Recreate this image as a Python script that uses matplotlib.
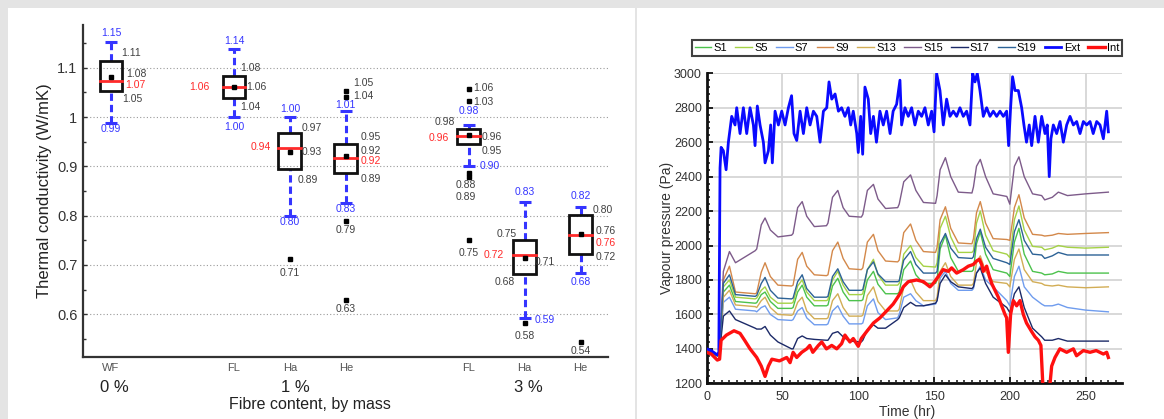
import matplotlib
matplotlib.use('Agg')
import matplotlib.pyplot as plt
from matplotlib.patches import Rectangle
from matplotlib.ticker import MultipleLocator, FixedLocator, FuncFormatter

plt.rcParams['font.family'] = ['Liberation Sans', 'DejaVu Sans']

# ---------------- Left chart data: thermal conductivity ----------------
categories = ['WF', 'FL', 'Ha', 'He', 'FL', 'Ha', 'He']
groups = ['0 %', '1 %', '3 %']
whisker_hi = [1.152, 1.138, 1.000, 1.012, 0.984, 0.827, 0.818]
q3 = [1.114, 1.083, 0.967, 0.946, 0.976, 0.751, 0.802]
median = [1.074, 1.061, 0.937, 0.918, 0.962, 0.721, 0.761]
mean = [1.082, 1.061, 0.929, 0.921, 0.964, 0.713, 0.763]
q1 = [1.053, 1.038, 0.894, 0.886, 0.946, 0.681, 0.722]
whisker_lo = [0.989, 1.000, 0.800, 0.826, 0.900, 0.592, 0.683]
outliers = [[], [], [0.712], [1.053, 1.040, 0.790, 0.628],
            [1.057, 1.032, 0.878, 0.886, 0.750], [0.583], [0.543]]

# ---------------- Right chart data: vapour pressure ----------------
t_s = [0, 7, 8.5, 11, 15, 19, 32,
       33, 36, 38.5, 42, 47, 56,
       57, 60, 63, 66, 71, 79,
       80, 83, 86.5, 90, 94, 102,
       103, 106, 110, 113, 118, 126,
       127, 130, 134.5, 138, 143, 151,
       152, 154, 157.5, 161, 166, 175,
       176, 178, 180.5, 184, 189, 198,
       200, 203, 206, 209.5, 215,
       221, 223, 228, 232, 238, 250, 265]
s1 = [1400, 1360, 1380, 1730, 1770, 1675, 1665,
      1668, 1715, 1730, 1675, 1635, 1635,
      1640, 1730, 1770, 1700, 1650, 1650,
      1655, 1765, 1810, 1730, 1680, 1680,
      1685, 1800, 1850, 1775, 1720, 1720,
      1730, 1860, 1910, 1830, 1780, 1780,
      1800, 1980, 2060, 1930, 1850, 1850,
      1860, 2010, 2080, 1950, 1860, 1840,
      1820, 2020, 2100, 1950, 1850,
      1840, 1830, 1835, 1850, 1840, 1840, 1840]
s5 = [1400, 1360, 1380, 1760, 1800, 1700, 1690,
      1695, 1740, 1760, 1700, 1665, 1665,
      1670, 1765, 1800, 1730, 1680, 1680,
      1685, 1800, 1850, 1770, 1715, 1715,
      1720, 1860, 1920, 1830, 1770, 1770,
      1780, 1950, 2000, 1930, 1880, 1875,
      1900, 2100, 2170, 2050, 1960, 1960,
      1970, 2130, 2200, 2060, 1970, 1950,
      1930, 2150, 2230, 2090, 1995,
      1990, 1975, 1985, 2000, 1990, 1985, 1990]
s7 = [1400, 1360, 1380, 1670, 1700, 1630, 1620,
      1615, 1640, 1650, 1600, 1570, 1565,
      1570, 1620, 1640, 1580, 1540, 1540,
      1545, 1620, 1650, 1590, 1545, 1545,
      1550, 1650, 1690, 1610, 1570, 1580,
      1600, 1700, 1720, 1680, 1650, 1660,
      1680, 1810, 1850, 1780, 1740, 1740,
      1750, 1840, 1880, 1800, 1760, 1680,
      1650, 1820, 1880, 1760, 1700,
      1660, 1650, 1650, 1660, 1640, 1625, 1615]
s9 = [1400, 1360, 1385, 1800, 1880, 1730, 1720,
      1725, 1845, 1900, 1820, 1770, 1765,
      1770, 1920, 1960, 1880, 1830, 1825,
      1830, 1970, 2020, 1925, 1865, 1860,
      1870, 2020, 2065, 1970, 1910, 1905,
      1915, 2075, 2125, 2030, 1965, 1960,
      1990, 2150, 2225, 2100, 2015, 2010,
      2040, 2190, 2255, 2130, 2040, 2035,
      2030, 2220, 2295, 2160, 2065,
      2060, 2055, 2060, 2070, 2065, 2070, 2075]
s13 = [1400, 1360, 1380, 1700, 1740, 1655, 1645,
       1640, 1680, 1700, 1640, 1600, 1595,
       1600, 1670, 1700, 1620, 1575, 1575,
       1580, 1680, 1720, 1640, 1590, 1590,
       1595, 1710, 1760, 1675, 1620, 1620,
       1630, 1760, 1800, 1730, 1680, 1680,
       1700, 1850, 1900, 1820, 1770, 1770,
       1780, 1900, 1940, 1850, 1790, 1780,
       1760, 1920, 1980, 1860, 1790,
       1780, 1770, 1765, 1770, 1760, 1755, 1760]
s15 = [1400, 1360, 1400, 1850, 1965, 1900, 1970,
       1980, 2120, 2160, 2090, 2050, 2060,
       2070, 2220, 2255, 2170, 2110, 2115,
       2130, 2280, 2320, 2220, 2170, 2165,
       2180, 2320, 2355, 2270, 2215, 2220,
       2240, 2370, 2410, 2320, 2250, 2245,
       2290, 2440, 2510, 2400, 2310, 2305,
       2340, 2460, 2500, 2400, 2300, 2285,
       2240, 2460, 2515, 2400, 2300,
       2290, 2265, 2280, 2310, 2290, 2300, 2310]
s17 = [1400, 1360, 1380, 1590, 1620, 1570, 1520,
       1515, 1515, 1530, 1480, 1440, 1400,
       1400, 1460, 1475, 1460, 1455, 1450,
       1450, 1490, 1500, 1470, 1445, 1440,
       1450, 1510, 1540, 1520, 1520, 1570,
       1580, 1640, 1670, 1650, 1650, 1665,
       1680, 1780, 1830, 1790, 1760, 1750,
       1760, 1840, 1870, 1780, 1700, 1640,
       1610, 1720, 1760, 1640, 1520,
       1470, 1450, 1450, 1460, 1445, 1445, 1445]
s19 = [1400, 1360, 1380, 1780, 1830, 1715, 1705,
       1710, 1780, 1815, 1740, 1695, 1690,
       1695, 1790, 1830, 1750, 1700, 1700,
       1705, 1820, 1865, 1790, 1740, 1740,
       1745, 1860, 1905, 1835, 1790, 1790,
       1795, 1915, 1965, 1890, 1840, 1840,
       1850, 2010, 2070, 1985, 1930, 1925,
       1935, 2040, 2095, 1990, 1925, 1900,
       1890, 2080, 2150, 2030, 1950,
       1945, 1925, 1940, 1960, 1945, 1945, 1945]

ext_t = [0, 3, 7, 8, 8.8, 9.5, 11, 12.8, 14.3, 16.5,
         18.7, 19.8, 22, 24.2, 26.4, 28.6, 30.8, 31.9, 33.4, 35.2,
         37.4, 38.5, 40.7, 42.2, 43.3, 45.1, 47.3, 49.5, 51.7, 53.9,
         56, 57.6, 59.4, 61.6, 63.8, 66, 68.2, 70.4, 72.6, 74.8,
         77, 79.2, 80.7, 82.5, 84.7, 86.9, 89, 91.2, 93.4, 95,
         96.7, 99, 100, 101.6, 102.9, 104.4, 106.6, 108.2, 110, 112,
         114.3, 116.5, 118.7, 121, 123, 125.3, 127.5, 128.6, 130.8, 133,
         135.2, 137.4, 139.6, 141.8, 144, 146.2, 148.4, 150, 151.7, 153.9,
         156.1, 158.3, 160.5, 162.7, 164.9, 167.1, 169.3, 171.5, 173.7, 175.5,
         177, 178.5, 180.3, 182.5, 184.7, 186.9, 189.1, 191.3, 193.5, 195.7,
         197.9, 199.2, 200.5, 201.8, 203.4, 205.6, 207.8, 209.3, 211, 212.8,
         214.4, 216.6, 218.8, 221, 223.2, 224.7, 226, 227.1, 228.7, 230.9,
         233.1, 235.3, 237.5, 239.7, 241.9, 244.1, 246.3, 248.5, 250.7, 252.9,
         255, 257.3, 259.5, 261.7, 263.9, 265]
ext_v = [1400, 1390, 1365, 1380, 2450, 2570, 2550, 2440, 2600, 2750,
         2700, 2800, 2650, 2800, 2650, 2800, 2700, 2580, 2810, 2700,
         2600, 2480, 2550, 2700, 2480, 2780, 2700, 2780, 2700, 2800,
         2870, 2650, 2610, 2780, 2650, 2800, 2700, 2780, 2750, 2600,
         2780, 2800, 2950, 2850, 2880, 2780, 2800, 2750, 2800, 2700,
         2780, 2650, 2540, 2750, 2530, 2920, 2850, 2650, 2750, 2600,
         2780, 2700, 2780, 2650, 2780, 2820, 2960, 2700, 2800, 2750,
         2800, 2700, 2780, 2750, 2800, 2700, 2780, 2660, 3000, 2900,
         2700, 2850, 2750, 2780, 2750, 2800, 2750, 2780, 2700, 3000,
         2950, 3000, 2900, 2750, 2800, 2750, 2780, 2750, 2780, 2750,
         2780, 2580, 2800, 2980, 2900, 2900, 2800, 2700, 2600, 2700,
         2580, 2750, 2600, 2750, 2650, 2700, 2400, 2620, 2700, 2650,
         2720, 2600, 2700, 2750, 2700, 2720, 2650, 2720, 2700, 2720,
         2650, 2720, 2700, 2620, 2780, 2660]

int_t = [0, 3, 7, 8.5, 9.5, 13, 18, 22, 25, 28.6,
         33, 36, 38.5, 40.7, 43, 48, 52.8, 55, 57, 59.4,
         62.7, 66, 68, 70, 73.7, 75.9, 79, 82.5, 85.8, 89,
         91.2, 94.5, 96.7, 100, 102, 105.5, 110, 114.3, 118.7, 123,
         125.3, 127.5, 129.7, 133, 138.5, 143, 147.3, 149.5, 152.8, 156,
         159.4, 161.6, 164.9, 169.3, 172.6, 175.9, 178, 179.9, 181.4, 182.5,
         184.7, 186.5, 188, 190.2, 192.4, 194.6, 196.8, 197.9, 199, 200.5,
         202.3, 204.5, 206.7, 208.9, 211, 214.4, 216.6, 218.8, 220.5, 222,
         226, 227.6, 229.8, 233, 237.5, 241.9, 244, 248.5, 252.9, 257,
         261.7, 263.9, 265]
int_v = [1380, 1370, 1335, 1340, 1450, 1480, 1505, 1490, 1450, 1400,
         1350, 1300, 1240, 1300, 1340, 1330, 1350, 1320, 1380, 1350,
         1380, 1400, 1420, 1380, 1420, 1440, 1400, 1420, 1400, 1430,
         1480, 1440, 1460, 1415, 1460, 1500, 1550, 1580, 1620, 1660,
         1690, 1720, 1760, 1790, 1800, 1790, 1760, 1780, 1820, 1860,
         1850, 1870, 1840, 1860, 1880, 1890, 1910, 1920, 1890, 1850,
         1880, 1820, 1780, 1740, 1700, 1650, 1600, 1580, 1380, 1600,
         1680, 1650, 1680, 1600, 1550, 1500, 1470, 1450, 1420, 1150,
         1150, 1300, 1350, 1400, 1380, 1400, 1360, 1390, 1380, 1390,
         1370, 1380, 1350]

series_names = ['S1', 'S5', 'S7', 'S9', 'S13', 'S15', 'S17', 'S19']
series_vals = [s1, s5, s7, s9, s13, s15, s17, s19]
series_colors = ['#4cc24c', '#a5d246', '#6f9cee', '#d3884a', '#d2ad55',
                 '#7d5b8a', '#1c2a68', '#2c6296']

# ---------------- Figure & panels ----------------
W, H = 1164, 419
fig = plt.figure(figsize=(W / 100, H / 100), dpi=100, facecolor='#e4e4e4')
fig.patches.append(Rectangle((8 / W, 0), (635 - 8) / W, 411 / H, transform=fig.transFigure,
                             facecolor='white', edgecolor='none', zorder=-10))
fig.patches.append(Rectangle((637 / W, 0), (W - 637) / W, 411 / H, transform=fig.transFigure,
                             facecolor='white', edgecolor='none', zorder=-10))

BLUE = '#3535ff'
RED = '#ff2a2a'
GRAY = '#404040'

# ---------------- Left axes ----------------
axL = fig.add_axes([83 / W, 1 - 357 / H, (608 - 83) / W, (357 - 25) / H])
axL.set_facecolor('none')
pos = [0, 2.2, 3.2, 4.2, 6.4, 7.4, 8.4]
axL.set_xlim(-0.501, 8.891)
axL.set_ylim(0.513, 1.187)
for s in ['top', 'right']:
    axL.spines[s].set_visible(False)
for s in ['left', 'bottom']:
    axL.spines[s].set_color('#333333')
    axL.spines[s].set_linewidth(1.6)

axL.yaxis.set_major_locator(FixedLocator([0.6, 0.7, 0.8, 0.9, 1.0, 1.1]))
axL.yaxis.set_minor_locator(FixedLocator([0.55, 0.65, 0.75, 0.85, 0.95, 1.05, 1.15]))
axL.yaxis.set_major_formatter(FuncFormatter(lambda v, p: f"{round(v, 2):g}"))
axL.tick_params(axis='y', which='both', direction='in', color='#333333', labelsize=10.5,
                labelcolor='#333333', pad=4)
axL.tick_params(axis='y', which='major', length=3, width=1)
axL.tick_params(axis='y', which='minor', length=2, width=1)
axL.set_xticks(pos)
axL.set_xticklabels(categories)
axL.tick_params(axis='x', length=0, labelsize=8, labelcolor='#555555', pad=4)

for gy in [0.6, 0.7, 0.8, 0.9, 1.0, 1.1]:
    axL.axhline(gy, color='#9a9a9a', lw=0.8, ls=(0, (1, 2)), zorder=0)

box_w = 0.41
cap_w = 0.21
for i, p in enumerate(pos):
    axL.plot([p, p], [q3[i], whisker_hi[i]], color=BLUE, lw=2.2, ls=(0, (2.4, 1.3)), zorder=2)
    axL.plot([p, p], [whisker_lo[i], q1[i]], color=BLUE, lw=2.2, ls=(0, (2.4, 1.3)), zorder=2)
    axL.plot([p - cap_w / 2, p + cap_w / 2], [whisker_hi[i]] * 2, color=BLUE, lw=2.2,
             solid_capstyle='butt', zorder=2)
    axL.plot([p - cap_w / 2, p + cap_w / 2], [whisker_lo[i]] * 2, color=BLUE, lw=2.2,
             solid_capstyle='butt', zorder=2)
    axL.add_patch(Rectangle((p - box_w / 2, q1[i]), box_w, q3[i] - q1[i], facecolor='none',
                            edgecolor='#111111', lw=2.0, zorder=3))
    axL.plot([p - box_w / 2, p + box_w / 2], [median[i]] * 2, color=RED, lw=2.0, zorder=4)
    axL.plot([p], [mean[i]], marker='s', ms=3.2, color='black', ls='none', zorder=5)
    if outliers[i]:
        axL.plot([p] * len(outliers[i]), outliers[i], marker='s', ms=3.2, color='black',
                 ls='none', zorder=5)

# label layout: (category index, statistic, outlier index, dx px, dy px, alignment)
label_layout = [
    (0, 'whi', None, 0, 9, 'center'), (0, 'wlo', None, 0, -6.6, 'center'),
    (0, 'q3', None, 10, 7.8, 'left'), (0, 'mean', None, 14.7, 2.6, 'left'),
    (0, 'med', None, 14, -4.5, 'left'), (0, 'q1', None, 10.7, -8.1, 'left'),
    (1, 'whi', None, 0, 8.3, 'center'), (1, 'wlo', None, 0, -9.7, 'center'),
    (1, 'med', None, -24.7, 0, 'right'), (1, 'q3', None, 6, 8.4, 'left'),
    (1, 'mean', None, 12.7, 0, 'left'), (1, 'q1', None, 6, -8.7, 'left'),
    (2, 'whi', None, 0, 7.7, 'center'), (2, 'wlo', None, 0, -6, 'center'),
    (2, 'med', None, -19.2, 0.8, 'right'), (2, 'q3', None, 11.8, 5.6, 'left'),
    (2, 'mean', None, 11.8, 0, 'left'), (2, 'q1', None, 7.8, -10.7, 'left'),
    (2, 'out', 0, 0, -13.6, 'center'),
    (3, 'whi', None, 0, 5.8, 'center'), (3, 'wlo', None, 0, -6.5, 'center'),
    (3, 'out', 0, 7.5, 8.2, 'left'), (3, 'out', 1, 7.5, 1.3, 'left'),
    (3, 'q3', None, 14.9, 7, 'left'), (3, 'mean', None, 14.9, 5.3, 'left'),
    (3, 'med', None, 14.9, -3.8, 'left'), (3, 'q1', None, 14.9, -6.1, 'left'),
    (3, 'out', 2, 0, -9.4, 'center'), (3, 'out', 3, 0, -8.5, 'center'),
    (4, 'out', 0, 4.5, 1.2, 'left'), (4, 'out', 1, 4.5, -0.5, 'left'),
    (4, 'whi', None, 0, 14.2, 'center'), (4, 'q3', None, -13.8, 6.6, 'right'),
    (4, 'med', None, -19.5, -1.9, 'right'), (4, 'mean', None, 12.9, -2.5, 'left'),
    (4, 'q1', None, 12.9, -7, 'left'), (4, 'wlo', None, 11.2, 0, 'left'),
    (4, 'out', 2, -2.8, -8.1, 'center'), (4, 'out', 3, -2.8, -24.1, 'center'),
    (4, 'out', 4, 0, -12.4, 'center'),
    (5, 'whi', None, 0, 10, 'center'), (5, 'wlo', None, 10.3, -1.8, 'left'),
    (5, 'q3', None, -8, 5.5, 'right'), (5, 'med', None, -20.7, 0, 'right'),
    (5, 'mean', None, 10.3, -3.7, 'left'), (5, 'q1', None, -9.7, -8, 'right'),
    (5, 'out', 0, 0, -13, 'center'),
    (6, 'whi', None, 0, 10.8, 'center'), (6, 'wlo', None, 0, -8.3, 'center'),
    (6, 'q3', None, 12.1, 4.7, 'left'), (6, 'mean', None, 15.4, 3.2, 'left'),
    (6, 'med', None, 15.4, -8.4, 'left'), (6, 'q1', None, 15.4, -3.2, 'left'),
    (6, 'out', 0, 0, -8.3, 'center'),
]
stats = {'whi': whisker_hi, 'q3': q3, 'med': median, 'mean': mean, 'q1': q1, 'wlo': whisker_lo}
stat_color = {'whi': BLUE, 'wlo': BLUE, 'med': RED}
for ci, st, k, dx, dy, ha in label_layout:
    v = outliers[ci][k] if st == 'out' else stats[st][ci]
    axL.annotate(f"{v:.2f}", xy=(pos[ci], v), xytext=(dx, dy), textcoords='offset pixels',
                 ha=ha, va='center', fontsize=7.5, color=stat_color.get(st, GRAY),
                 annotation_clip=False, zorder=6)

fig.text(44.5 / W, 1 - 191 / H, 'Thermal conductivity (W/mK)', rotation=90,
         ha='center', va='center', fontsize=12, color='#222222')
for g, gx in zip(groups, [114, 295, 528.7]):
    fig.text(gx / W, 1 - 387 / H, g, ha='center', va='center', fontsize=12, color='#222222')
fig.text(310 / W, 1 - 404 / H, 'Fibre content, by mass', ha='center', va='center',
         fontsize=11.5, color='#222222')

# ---------------- Right axes ----------------
axR = fig.add_axes([706.7 / W, 1 - 383.3 / H, (1122 - 706.7) / W, 310 / H])
axR.set_facecolor('none')
axR.set_xlim(0, 274)
axR.set_ylim(1200, 3000)
axR.xaxis.set_major_locator(MultipleLocator(50))
axR.xaxis.set_minor_locator(MultipleLocator(5))
axR.yaxis.set_major_locator(MultipleLocator(200))
axR.yaxis.set_minor_locator(MultipleLocator(40))
axR.grid(True, which='major', color='#d6d6d6', lw=1.3, zorder=0)
axR.set_axisbelow(True)
for s in ['top', 'right']:
    axR.spines[s].set_visible(False)
for s in ['left', 'bottom']:
    axR.spines[s].set_linewidth(2.0)
    axR.spines[s].set_color('#111111')
axR.tick_params(which='both', direction='in', color='#111111', labelsize=9, labelcolor='#333333')
axR.tick_params(which='major', length=4, width=1.3)
axR.tick_params(which='minor', length=2.5, width=1.1)
axR.tick_params(axis='y', pad=3.5)
axR.tick_params(axis='x', pad=5.5)

handles = []
for name, vals, c in zip(series_names, series_vals, series_colors):
    ln, = axR.plot(t_s, vals, color=c, lw=1.0, label=name, zorder=3)
    handles.append(ln)
ln_ext, = axR.plot(ext_t, ext_v, color='#0a0aff', lw=2.0, label='Ext', zorder=4)
ln_int, = axR.plot(int_t, int_v, color='#ff1010', lw=2.4, label='Int', zorder=5)
handles += [ln_ext, ln_int]

leg = axR.legend(handles=handles, loc='lower left',
                 bbox_to_anchor=(-0.0354, 1.0558, 1.0354, 0.0677), mode='expand', ncol=10,
                 fontsize=8, handlelength=1.5, handletextpad=0.2, columnspacing=0.5,
                 borderpad=0.25, frameon=True, fancybox=False, edgecolor='#111111',
                 borderaxespad=0)
leg.get_frame().set_linewidth(1.5)

fig.text(666.7 / W, 1 - 228 / H, 'Vapour pressure (Pa)', rotation=90, ha='center',
         va='center', fontsize=10, color='#333333')
fig.text(906.7 / W, 1 - 411.7 / H, 'Time (hr)', ha='center', va='center', fontsize=10,
         color='#333333')

fig.savefig('out.png', dpi=100, facecolor=fig.get_facecolor())
